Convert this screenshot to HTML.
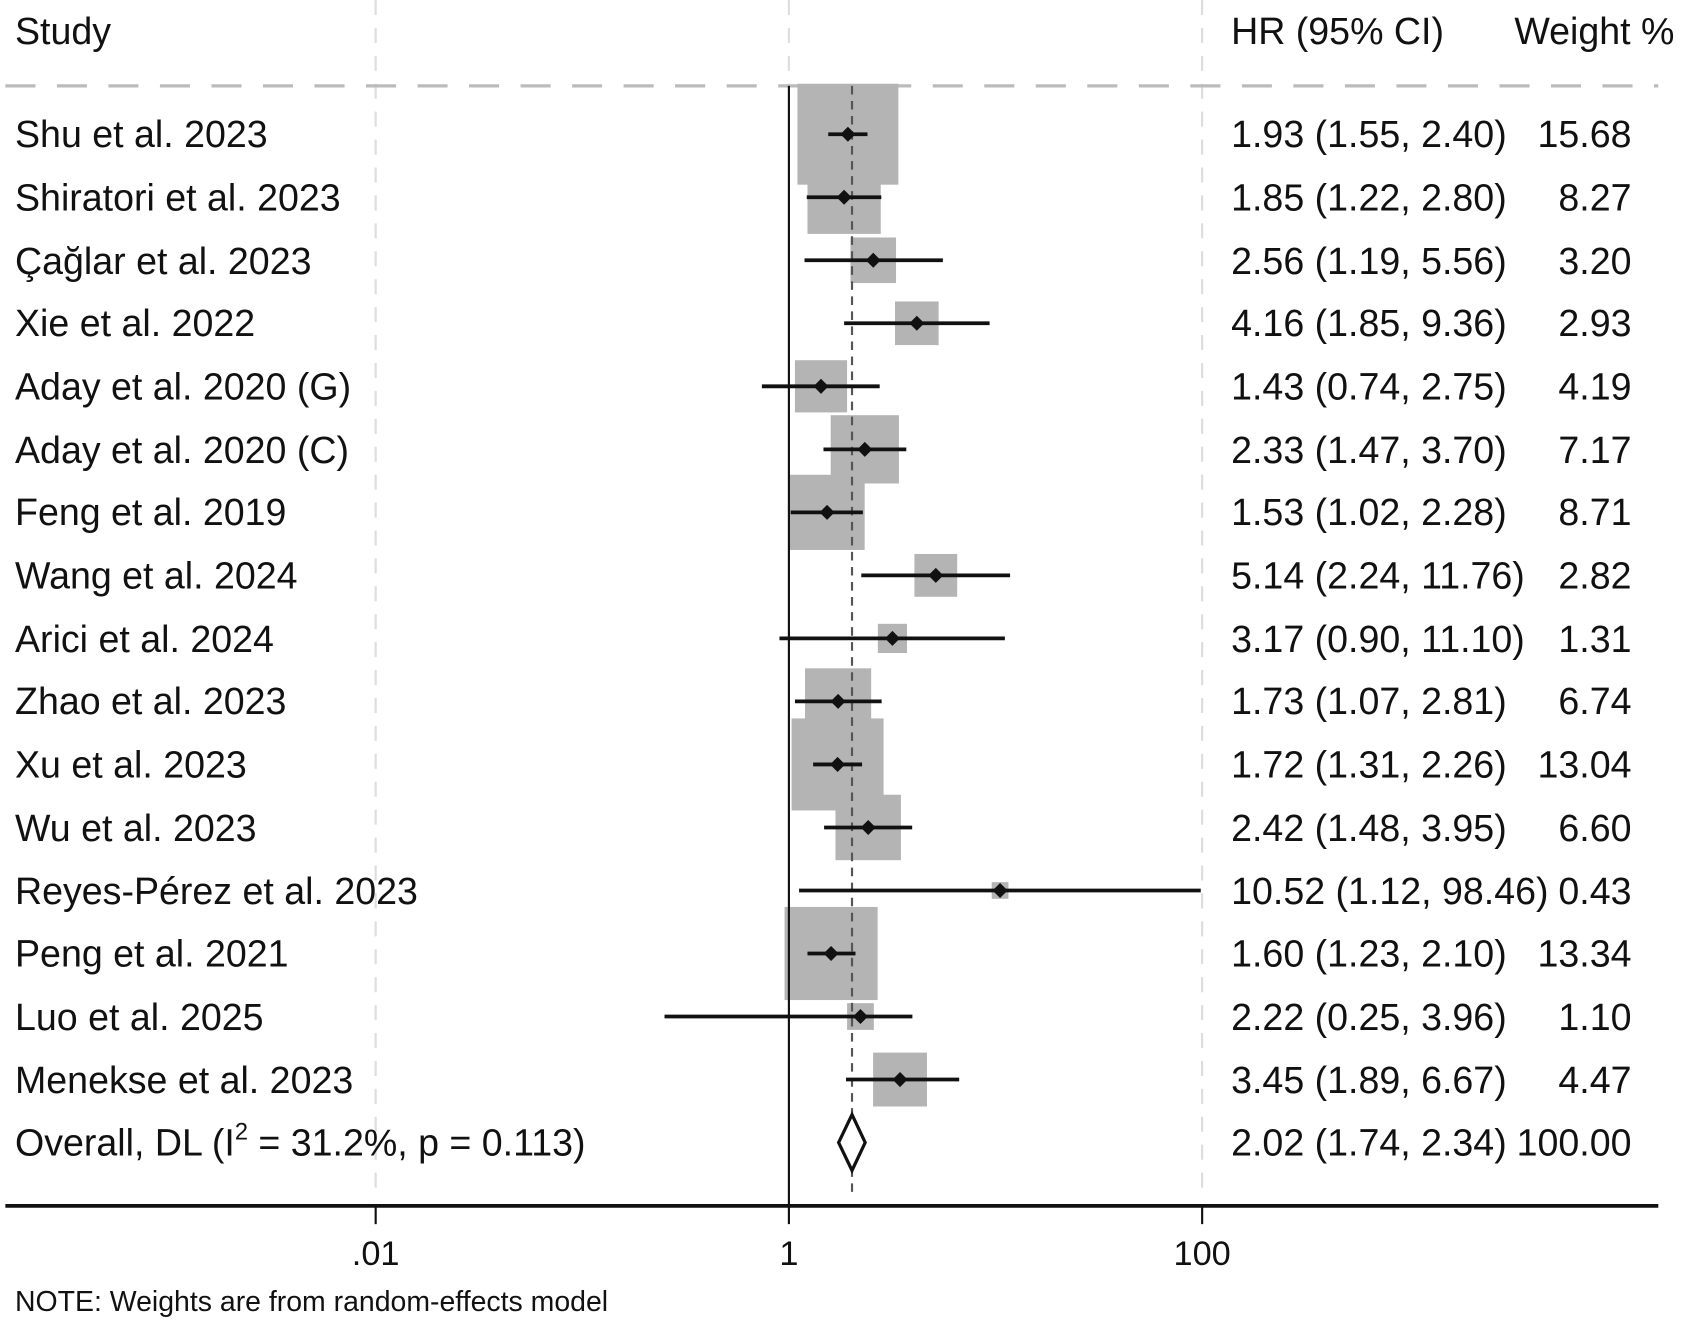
<!DOCTYPE html>
<html><head><meta charset="utf-8"><style>
html,body{margin:0;padding:0;background:#fff;}
svg{display:block;}
text{font-family:"Liberation Sans",Arial,sans-serif;fill:#111;}
.t{font-size:35px;}
</style></head><body>
<svg id="s" width="1683" height="1324" viewBox="0 0 1568 1233" preserveAspectRatio="none" xmlns="http://www.w3.org/2000/svg">
<rect width="1568" height="1233" fill="#fff"/>
<g stroke="#ddd" stroke-width="2" stroke-dasharray="14,12">
<line x1="350" y1="0" x2="350" y2="1112"/>
<line x1="1120" y1="0" x2="1120" y2="1112"/>
<line x1="735" y1="0" x2="735" y2="80"/>
</g>
<line x1="5" y1="80" x2="1545" y2="80" stroke="#bbb" stroke-width="3" stroke-dasharray="28,20"/>
<g id="g"></g>
<line x1="735" y1="80" x2="735" y2="1140" stroke="#111" stroke-width="2"/>
<line x1="5" y1="1123" x2="1545" y2="1123" stroke="#111" stroke-width="3.5"/>
<line x1="350" y1="1123" x2="350" y2="1140" stroke="#111" stroke-width="2"/>
<line x1="1120" y1="1123" x2="1120" y2="1140" stroke="#111" stroke-width="2"/>
<g class="t">
<text x="14" y="41">Study</text>
<text x="1147" y="41">HR (95% CI)</text>
<text x="1560" y="41" text-anchor="end">Weight %</text>
<text x="350" y="1178" text-anchor="middle" font-size="32">.01</text>
<text x="735" y="1178" text-anchor="middle" font-size="32">1</text>
<text x="1120" y="1178" text-anchor="middle" font-size="32">100</text>
</g>
<text x="14" y="1221" font-size="26.5">NOTE: Weights are from random-effects model</text>
<g id="txt" class="t">
<text x="14" y="137">Shu et al. 2023</text><text x="1147" y="137">1.93 (1.55, 2.40)</text><text x="1520" y="137" text-anchor="end">15.68</text>
<text x="14" y="196">Shiratori et al. 2023</text><text x="1147" y="196">1.85 (1.22, 2.80)</text><text x="1520" y="196" text-anchor="end">8.27</text>
<text x="14" y="255">Çağlar et al. 2023</text><text x="1147" y="255">2.56 (1.19, 5.56)</text><text x="1520" y="255" text-anchor="end">3.20</text>
<text x="14" y="313">Xie et al. 2022</text><text x="1147" y="313">4.16 (1.85, 9.36)</text><text x="1520" y="313" text-anchor="end">2.93</text>
<text x="14" y="372">Aday et al. 2020 (G)</text><text x="1147" y="372">1.43 (0.74, 2.75)</text><text x="1520" y="372" text-anchor="end">4.19</text>
<text x="14" y="431">Aday et al. 2020 (C)</text><text x="1147" y="431">2.33 (1.47, 3.70)</text><text x="1520" y="431" text-anchor="end">7.17</text>
<text x="14" y="489">Feng et al. 2019</text><text x="1147" y="489">1.53 (1.02, 2.28)</text><text x="1520" y="489" text-anchor="end">8.71</text>
<text x="14" y="548">Wang et al. 2024</text><text x="1147" y="548">5.14 (2.24, 11.76)</text><text x="1520" y="548" text-anchor="end">2.82</text>
<text x="14" y="607">Arici et al. 2024</text><text x="1147" y="607">3.17 (0.90, 11.10)</text><text x="1520" y="607" text-anchor="end">1.31</text>
<text x="14" y="665">Zhao et al. 2023</text><text x="1147" y="665">1.73 (1.07, 2.81)</text><text x="1520" y="665" text-anchor="end">6.74</text>
<text x="14" y="724">Xu et al. 2023</text><text x="1147" y="724">1.72 (1.31, 2.26)</text><text x="1520" y="724" text-anchor="end">13.04</text>
<text x="14" y="783">Wu et al. 2023</text><text x="1147" y="783">2.42 (1.48, 3.95)</text><text x="1520" y="783" text-anchor="end">6.60</text>
<text x="14" y="842">Reyes-Pérez et al. 2023</text><text x="1147" y="842">10.52 (1.12, 98.46)</text><text x="1520" y="842" text-anchor="end">0.43</text>
<text x="14" y="900">Peng et al. 2021</text><text x="1147" y="900">1.60 (1.23, 2.10)</text><text x="1520" y="900" text-anchor="end">13.34</text>
<text x="14" y="959">Luo et al. 2025</text><text x="1147" y="959">2.22 (0.25, 3.96)</text><text x="1520" y="959" text-anchor="end">1.10</text>
<text x="14" y="1018">Menekse et al. 2023</text><text x="1147" y="1018">3.45 (1.89, 6.67)</text><text x="1520" y="1018" text-anchor="end">4.47</text>
<text x="14" y="1076">Overall, DL (I<tspan font-size="22" dy="-15">2</tspan><tspan dy="15"> = 31.2%, p = 0.113)</tspan></text><text x="1147" y="1076">2.02 (1.74, 2.34)</text><text x="1520" y="1076" text-anchor="end">100.00</text>
</g>
</svg>
<script>
var d=[[1.93,1.55,2.40,15.68],[1.85,1.22,2.80,8.27],[2.56,1.19,5.56,3.20],[4.16,1.85,9.36,2.93],[1.43,0.74,2.75,4.19],[2.33,1.47,3.70,7.17],[1.53,1.02,2.28,8.71],[5.14,2.24,11.76,2.82],[3.17,0.90,11.10,1.31],[1.73,1.07,2.81,6.74],[1.72,1.31,2.26,13.04],[2.42,1.48,3.95,6.60],[10.52,1.12,98.46,0.43],[1.60,1.23,2.10,13.34],[2.22,0.25,3.96,1.10],[3.45,1.89,6.67,4.47]];
function X(v){return 735+192.5*Math.log10(v);}
var s='';
d.forEach(function(r,i){var y=125+i*58.69,c=X(r[0]),h=94*Math.sqrt(r[3]/15.68)/2;
s+='<rect x="'+(c-h)+'" y="'+(y-h)+'" width="'+2*h+'" height="'+2*h+'" fill="#b4b4b4"/>';});
s+='<line x1="793.8" y1="80" x2="793.8" y2="1112" stroke="#555" stroke-width="2" stroke-dasharray="8,6"/>';
d.forEach(function(r,i){var y=125+i*58.69,c=X(r[0]);
s+='<line x1="'+X(r[1])+'" y1="'+y+'" x2="'+X(r[2])+'" y2="'+y+'" stroke="#111" stroke-width="3.5"/>';
s+='<polygon points="'+(c-7)+','+y+' '+c+','+(y-7)+' '+(c+7)+','+y+' '+c+','+(y+7)+'" fill="#111"/>';});
var y=1064;s+='<polygon points="'+X(1.74)+','+y+' 793.8,'+(y-26)+' '+X(2.34)+','+y+' 793.8,'+(y+26)+'" fill="#fff" stroke="#111" stroke-width="3"/>';
document.getElementById('g').innerHTML=s;
</script>
</body></html>
